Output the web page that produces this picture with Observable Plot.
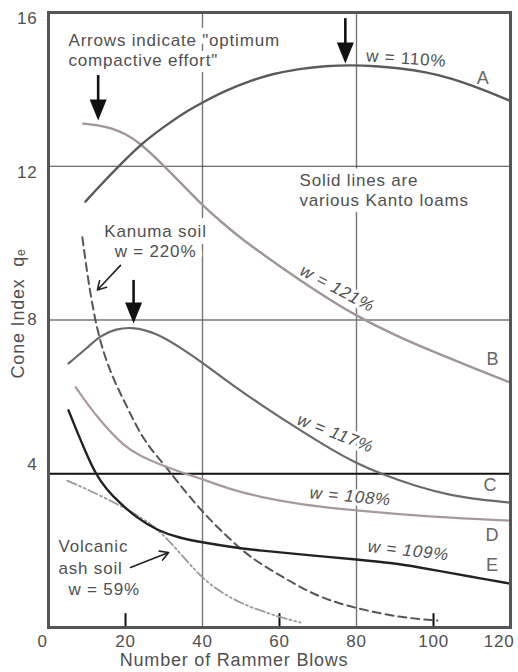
<!DOCTYPE html>
<html>
<head>
<meta charset="utf-8">
<script src="https://cdn.jsdelivr.net/npm/d3@7"></script>
<script src="https://cdn.jsdelivr.net/npm/@observablehq/plot@0.6"></script>
<style>
  body { margin: 0; background: #fff; }
  #chart svg text { letter-spacing: 0.8px; paint-order: stroke; stroke-linejoin: round; }
</style>
</head>
<body>
<div id="chart"></div>
<script>
// Cone index q_e against number of rammer blows: [blows, q_e]
const loamA = [[9.6,11.08],[13.4,11.5],[18.2,12.0],[23.9,12.57],[30,13.03],[35,13.38],[40,13.66],[46,13.97],[52.3,14.22],[58,14.4],[65.3,14.54],[72,14.61],[78.4,14.63],[85,14.61],[91.3,14.55],[98,14.45],[104.3,14.3],[112,14.03],[120,13.7]];
const loamB = [[9.0,13.11],[13.4,13.06],[16,13.0],[20,12.85],[23.9,12.59],[29.1,12.1],[35,11.5],[40,10.98],[45,10.54],[50,10.12],[60,9.4],[70,8.72],[80,8.1],[90,7.6],[100,7.17],[110,6.77],[120,6.37]];
const loamC = [[5.2,6.87],[10.1,7.28],[13.5,7.6],[17.5,7.77],[22.1,7.82],[28.3,7.65],[34.3,7.28],[40.3,6.87],[48.1,6.28],[55.1,5.8],[65.5,5.12],[74,4.6],[79.7,4.29],[86.2,4.0],[95.8,3.66],[104.4,3.44],[112,3.33],[120,3.25]];
const loamD = [[7.1,6.25],[9.5,5.9],[13.4,5.38],[19.4,4.73],[24,4.45],[28.3,4.27],[34.3,4.04],[40.3,3.85],[47,3.6],[55.1,3.39],[65.5,3.2],[79.7,3.04],[100,2.87],[120,2.78]];
const loamE = [[5.2,5.65],[7,5.2],[9.5,4.6],[12.2,4.0],[15,3.6],[18.6,3.23],[23,2.85],[28.3,2.52],[34,2.33],[40.3,2.21],[47,2.1],[55.1,2.0],[65.5,1.9],[80,1.77],[90,1.67],[95.8,1.57],[105,1.41],[112,1.28],[120,1.14]];
const kanuma = [[8.8,10.15],[10.4,8.95],[12.7,7.65],[16.1,6.6],[20.5,5.72],[24.7,4.86],[29.8,4.27],[35,3.6],[40.3,2.97],[46,2.4],[52.3,1.82],[61,1.3],[69.8,0.8],[80,0.49],[91.4,0.26],[101,0.18]];
const volcanicAsh = [[4.9,3.82],[10,3.6],[18.7,3.17],[23,2.92],[28.3,2.58],[34.3,1.93],[40.3,1.22],[48.1,0.7],[55.1,0.44],[60,0.27],[65.5,0.13]];

// Axis ticks
const xTicks = [0, 20, 40, 60, 80, 100, 120];
const yTicks = [4, 8, 12, 16];
const xGrid = [40, 80];
const xMinorTicks = [20, 60, 100];

// Curve end letters and water-content labels
const curveLetters = [
  {blows: 112.9, qc: 14.28, text: "A"},
  {blows: 115.4, qc: 6.97, text: "B"},
  {blows: 114.8, qc: 3.69, text: "C"},
  {blows: 115.3, qc: 2.39, text: "D"},
  {blows: 115.3, qc: 1.61, text: "E"}
];
const waterUpright = [{blows: 92.9, qc: 14.8, angle: 4, text: "w = 110%"}];
const waterItalic = [
  {blows: 75.0, qc: 8.82, angle: 28, text: "w = 121%"},
  {blows: 74.5, qc: 5.05, angle: 21, text: "w = 117%"},
  {blows: 78.4, qc: 3.41, angle: 5, text: "w = 108%"},
  {blows: 93.5, qc: 2.0, angle: 6, text: "w = 109%"}
];

// Notes
const notesStart = [
  {blows: 5.2, qc: 15.04, text: "Arrows indicate \"optimum\ncompactive effort\""},
  {blows: 65.2, qc: 11.39, text: "Solid lines are\nvarious Kanto loams"}
];
const kanumaNote = [{blows: 27.8, qc: 10.07, text: "Kanuma soil\nw = 220%"}];
const volcanicNote = [{blows: 2.6, qc: 1.87, text: "Volcanic\nash soil"}];
const volcanicW = [{blows: 5.2, qc: 0.99, text: "w = 59%"}];

// "Optimum compactive effort" arrows: shaft top and tip
const optimumArrows = [
  {blows: 12.9, top: 14.36, tip: 13.19},
  {blows: 77.1, top: 15.84, tip: 14.67},
  {blows: 22.1, top: 9.03, tip: 7.91}
];
const pointerArrows = [
  {x1: 18.7, y1: 9.42, x2: 12.7, y2: 8.78},
  {x1: 21.3, y1: 1.56, x2: 31.2, y2: 1.95}
];

const rows = pts => pts.map(([blows, qc]) => ({blows, qc}));
const font = "'Liberation Sans', Arial, Helvetica, sans-serif";
const ink = "#505050";

// Filled head with its tip at the anchor point, pointing down
const arrowHead = {
  draw(ctx) {
    ctx.moveTo(0, 0);
    ctx.lineTo(-8.5, -21);
    ctx.lineTo(8.5, -21);
    ctx.closePath();
  }
};

const line = (pts, opts) => Plot.line(rows(pts), {x: "blows", y: "qc", curve: "basis", strokeLinecap: "round", ...opts});

const chart = Plot.plot({
  width: 518,
  height: 672,
  marginLeft: 48,
  marginRight: 8,
  marginTop: 12,
  marginBottom: 45,
  x: {domain: [0, 120], axis: null},
  y: {domain: [0, 16], axis: null},
  style: {fontFamily: font, fontSize: "17px", background: "#fff", overflow: "visible"},
  marks: [
    // grid
    Plot.ruleX(xGrid, {stroke: "#777", strokeWidth: 1.4}),
    Plot.ruleY([12], {stroke: "#444", strokeWidth: 1.2}),
    Plot.ruleY([8], {stroke: "#777", strokeWidth: 1.5}),
    Plot.ruleY([4], {stroke: "#111", strokeWidth: 2}),
    Plot.ruleX(xMinorTicks, {y1: 0, y2: 0.36, stroke: "#111", strokeWidth: 2}),

    // notes (white halo breaks the grid behind them)
    Plot.text(notesStart, {x: "blows", y: "qc", text: "text", textAnchor: "start", lineAnchor: "middle", lineHeight: 1.18, fill: ink, stroke: "#fff", strokeWidth: 12}),
    Plot.text(kanumaNote, {x: "blows", y: "qc", text: "text", textAnchor: "middle", lineAnchor: "middle", lineHeight: 1.2, fill: ink, stroke: "#fff", strokeWidth: 14}),
    Plot.text(volcanicNote, {x: "blows", y: "qc", text: "text", textAnchor: "start", lineAnchor: "middle", lineHeight: 1.3, fill: ink, stroke: "#fff", strokeWidth: 8}),
    Plot.text(volcanicW, {x: "blows", y: "qc", text: "text", textAnchor: "start", lineAnchor: "middle", fill: ink, stroke: "#fff", strokeWidth: 8}),
    Plot.text(waterUpright, {x: "blows", y: "qc", text: "text", rotate: "angle", textAnchor: "middle", lineAnchor: "middle", fill: ink, stroke: "#fff", strokeWidth: 6}),
    Plot.text(waterItalic, {x: "blows", y: "qc", text: "text", rotate: "angle", textAnchor: "middle", lineAnchor: "middle", fontStyle: "italic", fill: ink, stroke: "#fff", strokeWidth: 6}),

    // curves
    line(volcanicAsh, {stroke: "#9a9a9a", strokeWidth: 1.8, strokeDasharray: "10,3,2,3,2,3"}),
    line(kanuma, {stroke: "#555", strokeWidth: 2, strokeDasharray: "8,5"}),
    line(loamD, {stroke: "#a89a9a", strokeWidth: 2.2}),
    line(loamB, {stroke: "#a09696", strokeWidth: 2.4}),
    line(loamC, {stroke: "#6a6a6a", strokeWidth: 2.2}),
    line(loamA, {stroke: "#5a5a5a", strokeWidth: 2.4}),
    line(loamE, {stroke: "#222", strokeWidth: 2.4}),

    Plot.text(curveLetters, {x: "blows", y: "qc", text: "text", textAnchor: "middle", lineAnchor: "middle", fontSize: 18, fill: "#666"}),

    // arrows
    Plot.ruleX(optimumArrows, {x: "blows", y1: "top", y2: "tip", insetBottom: 12, stroke: "#111", strokeWidth: 2.6}),
    Plot.dot(optimumArrows, {x: "blows", y: "tip", symbol: arrowHead, fill: "#111", stroke: "none"}),
    Plot.arrow(pointerArrows, {x1: "x1", y1: "y1", x2: "x2", y2: "y2", stroke: "#222", strokeWidth: 1.6, headLength: 9}),

    // frame
    Plot.frame({stroke: "#555", strokeWidth: 3}),

    // tick labels
    Plot.text(xTicks.filter(d => d > 0 && d < 120), {x: d => d, frameAnchor: "bottom", dy: 14, lineAnchor: "middle", textAnchor: "middle", fill: ink}),
    Plot.text(xTicks.filter(d => d === 0), {x: d => d, frameAnchor: "bottom", dy: 14, dx: -6, lineAnchor: "middle", textAnchor: "middle", fill: ink}),
    Plot.text(xTicks.filter(d => d === 120), {x: d => d, frameAnchor: "bottom", dy: 14, dx: 4, lineAnchor: "middle", textAnchor: "end", fill: ink}),
    Plot.text(yTicks.filter(d => d >= 12), {y: d => d, frameAnchor: "left", dx: -11, dy: 6, lineAnchor: "middle", textAnchor: "end", fill: ink}),
    Plot.text(yTicks.filter(d => d === 8), {y: d => d, frameAnchor: "left", dx: -11, lineAnchor: "middle", textAnchor: "end", fill: ink}),
    Plot.text(yTicks.filter(d => d === 4), {y: d => d, frameAnchor: "left", dx: -11, dy: -9, lineAnchor: "middle", textAnchor: "end", fill: ink}),

    // axis titles
    Plot.text(["Number of Rammer Blows"], {x: 48.2, y: 0, dy: 33, text: d => d, lineAnchor: "middle", textAnchor: "middle", fontSize: 18, fill: ink}),
    Plot.text(["Cone Index  qₑ"], {x: 0, y: 8.17, dx: -30, text: d => d, rotate: -90, lineAnchor: "middle", textAnchor: "middle", fontSize: 18, fill: ink})
  ]
});

document.getElementById("chart").appendChild(chart);
</script>
</body>
</html>
